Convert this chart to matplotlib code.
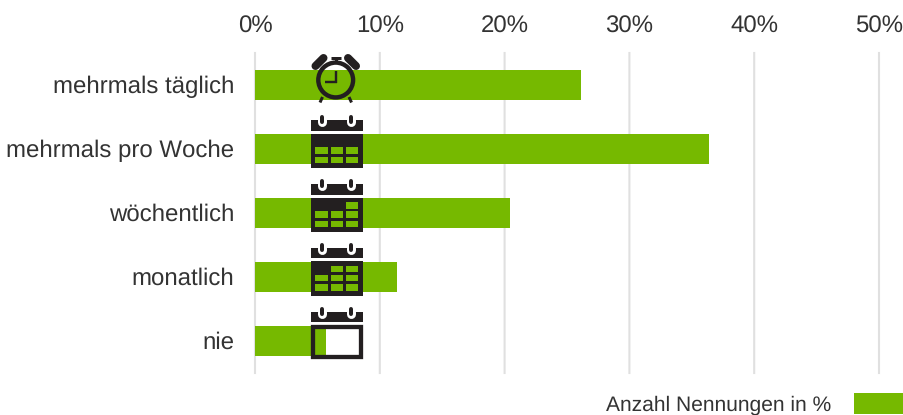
import matplotlib
matplotlib.use("Agg")
import matplotlib.pyplot as plt
from matplotlib.patches import Rectangle, Circle
from matplotlib.lines import Line2D
from matplotlib.transforms import Affine2D

categories = ["mehrmals täglich", "mehrmals pro Woche", "wöchentlich", "monatlich", "nie"]
values = [26.1, 36.4, 20.4, 11.4, 5.7]
xticks = [0, 10, 20, 30, 40, 50]
xticklabels = ["0%", "10%", "20%", "30%", "40%", "50%"]
legend_label = "Anzahl Nennungen in %"

GREEN = "#76B900"
DARK = "#231F20"
GRID = "#E0E0E0"
TEXT = "#333333"
W, H = 904, 415

plt.rcParams["font.family"] = ["Liberation Sans", "DejaVu Sans"]
plt.rcParams["text.hinting"] = "no_hinting"
plt.rcParams["text.hinting_factor"] = 1
fig = plt.figure(figsize=(W / 100, H / 100), dpi=100)
ax = fig.add_axes([255 / W, 1 - 373 / H, (879 - 255) / W, (373 - 53) / H])
ax.barh(range(len(values)), values, height=0.465, color=GREEN, label=legend_label, zorder=2)
ax.set_xlim(0, 50)
ax.set_ylim(4.5, -0.5)
ax.set_yticks(range(len(categories)), categories)
ax.set_xticks(xticks, xticklabels)
ax.xaxis.tick_top()
ax.tick_params(axis="both", length=0, labelsize=17, labelcolor=TEXT)
ax.tick_params(axis="y", pad=15)
ax.tick_params(axis="x", pad=11)
ax.grid(axis="x", color=GRID, lw=1.5, zorder=0, clip_on=False, snap=False)
ax.set_axisbelow(True)
for s in ax.spines.values():
    s.set_visible(False)
up = Affine2D().translate(0, 1)
for lab in ax.get_yticklabels():
    lab.set_transform(lab.get_transform() + up)

fig.legend(loc="lower right", bbox_to_anchor=(1, 0), bbox_transform=fig.transFigure,
           frameon=False, fontsize=15.35, labelcolor=TEXT, markerfirst=False,
           borderpad=0, borderaxespad=0, handlelength=2.34, handleheight=1.2, handletextpad=1.05)

# decorative icons, placed in reference pixel coordinates (y downward)
px = Affine2D().scale(1 / W, -1 / H).translate(0, 1) + fig.transFigure


def add(p):
    p.set_transform(px)
    p.set_clip_on(False)
    p.set_zorder(5)
    ax.add_artist(p)


def rect(x0, y0, x1, y1, **kw):
    kw.setdefault("lw", 0)
    add(Rectangle((x0, y0), x1 - x0, y1 - y0, **kw))


def line(xs, ys, lw, color=DARK, cap="butt"):
    add(Line2D(xs, ys, lw=lw * 0.72, color=color, solid_capstyle=cap))


def header(top):
    rect(310.7, top + 5, 362.7, top + 15.7, fc=DARK)
    for cx in (322, 350.7):
        line([cx, cx], [top + 5.2, top + 7], 9, color="white", cap="round")
        line([cx, cx], [top + 2, top + 7], 4, cap="round")


cols = [(315.3, 327.7), (330.7, 343), (346, 358.3)]
rows = [(4.6, 11), (13.7, 20.1), (23, 29.4)]


def calendar(top, cells):
    header(top)
    body = top + 18.7
    rect(310.7, body, 362.7, body + 34.3, fc=DARK)
    for r, c in cells:
        rect(cols[c][0], body + rows[r][0], cols[c][1], body + rows[r][1], fc=GREEN)


# clock
cx, cy = 335.7, 80
add(Circle((cx, cy), 17.4, fc="none", ec=DARK, lw=4.4 * 0.72))
line([cx, cx], [71.5, 83], 2.4)
line([325, cx + 1.2], [82, 82], 2.4)
line([cx, cx], [58, 63], 3)
line([330.7, 340.7], [58.3, 58.3], 3)
line([315.5, 323.5], [66, 58], 8, cap="round")
line([348, 356], [58, 66], 8, cap="round")
line([322.5, 320], [97, 102.5], 3)
line([349, 351.5], [97, 102.5], 3)

calendar(115, [(1, 0), (1, 1), (1, 2), (2, 0), (2, 1), (2, 2)])
calendar(179, [(0, 2), (1, 0), (1, 1), (1, 2), (2, 0), (2, 1), (2, 2)])
calendar(242.5, [(0, 1), (0, 2), (1, 0), (1, 1), (1, 2), (2, 0), (2, 1), (2, 2)])

# empty calendar
header(306.5)
rect(312.85, 327.45, 360.55, 357.15, fc="none", ec=DARK, lw=4.3 * 0.72)

fig.savefig("out.png", dpi=100)
